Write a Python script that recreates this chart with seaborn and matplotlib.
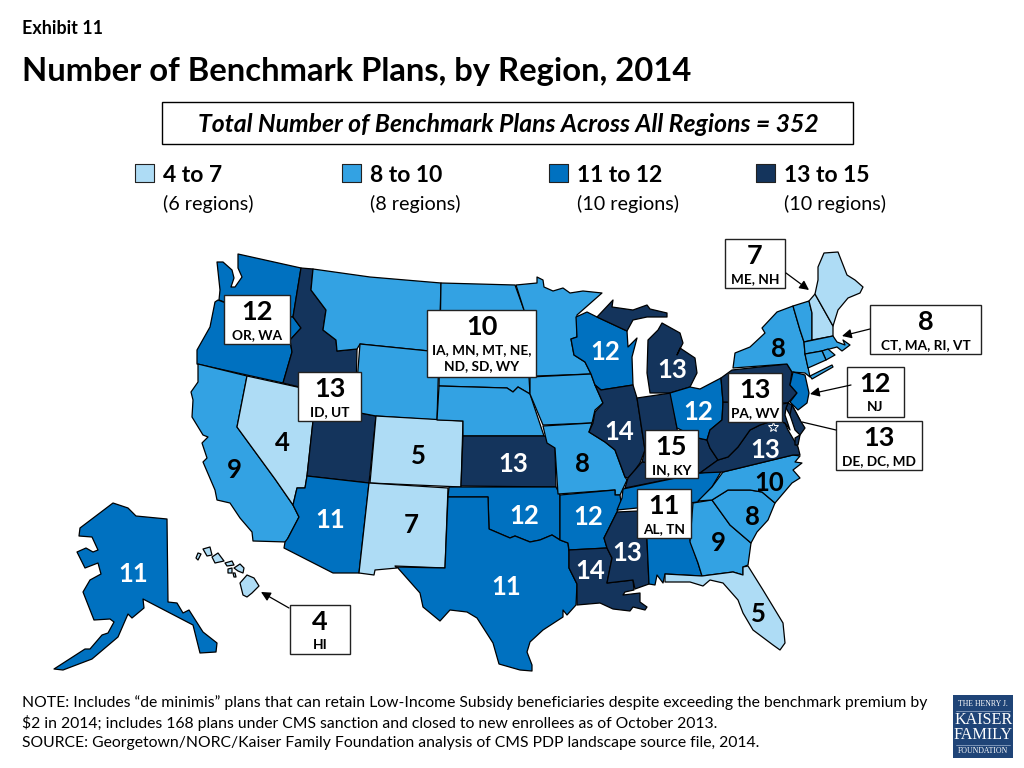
import matplotlib
matplotlib.use('Agg')
import matplotlib.pyplot as plt
from matplotlib.collections import PolyCollection
from matplotlib.patches import Rectangle
import seaborn as sns

states = ['WA', 'OR', 'CA', 'NV', 'ID', 'UT', 'AZ', 'MT', 'WY', 'CO', 'NM', 'ND', 'SD', 'NE', 'KS', 'OK', 'TX',
          'MN', 'IA', 'MO', 'AR', 'LA', 'WI', 'IL', 'MI', 'IN', 'KY', 'OH', 'TN', 'MS', 'AL', 'GA', 'FL', 'SC',
          'NC', 'VA', 'WV', 'PA', 'NY', 'VT', 'NH', 'ME', 'MA', 'RI', 'CT', 'NJ', 'DE', 'MD', 'AK', 'HI']
plans = [12, 12, 9, 4, 13, 13, 11, 10, 10, 5, 7, 10, 10, 10, 13, 12, 11,
         10, 10, 8, 12, 14, 12, 14, 13, 15, 15, 12, 11, 13, 11, 9, 5, 8,
         10, 13, 13, 13, 8, 8, 7, 7, 8, 8, 8, 12, 13, 13, 11, 4]

legend_titles = ['4 to 7', '8 to 10', '11 to 12', '13 to 15']
legend_counts = ['(6 regions)', '(8 regions)', '(10 regions)', '(10 regions)']
bin_tops = [7, 10, 12, 15]
colors = ['#AEDCF5', '#33A2E3', '#0071C0', '#14345C']

# numbers printed directly on the map
map_numbers = [9, 4, 11, 7, 5, 13, 12, 11, 11, 12, 13, 14, 8, 12, 14, 13, 9, 8, 10, 5, 12, 8, 13]
map_number_states = ['CA', 'NV', 'AZ', 'NM', 'CO', 'KS', 'OK', 'TX', 'AK', 'WI', 'MI', 'IL', 'MO', 'AR', 'LA',
                     'MS', 'GA', 'SC', 'NC', 'FL', 'OH', 'NY', 'VA']
label_pos = {'CA': (234, 469), 'NV': (282, 442), 'AZ': (330, 519), 'NM': (411, 524), 'CO': (418, 455),
             'KS': (513, 463), 'OK': (524, 515), 'TX': (506, 586), 'AK': (133, 573), 'WI': (605, 351),
             'MI': (672, 369), 'IL': (619, 431), 'MO': (582, 463), 'AR': (588, 516), 'LA': (590, 570),
             'MS': (627, 552), 'GA': (718, 542), 'SC': (752, 516), 'NC': (769, 482), 'FL': (758, 613),
             'OH': (698, 411), 'NY': (778, 348), 'VA': (765, 449)}

# callout boxes: number, states, x0, y0, x1, y1
box_numbers = [12, 13, 10, 7, 8, 12, 13, 13, 15, 11, 4]
box_states = ['OR, WA', 'ID, UT', 'IA, MN, MT, NE,\nND, SD, WY', 'ME, NH', 'CT, MA, RI, VT', 'NJ', 'DE, DC, MD',
              'PA, WV', 'IN, KY', 'AL, TN', 'HI']
box_rects = [(224, 295, 290, 344), (298, 372, 361, 421), (427, 310, 536, 377), (725, 239, 785, 288),
             (870, 305, 981, 354), (847, 367, 904, 417), (836, 421, 922, 470), (728, 373, 782, 422),
             (645, 430, 698, 478), (637, 489, 691, 538), (290, 605, 350, 654)]
arrows = [((786, 273), (809, 290)), ((870, 329), (842, 336)), ((851, 385), (810, 394)),
          ((289, 608), (261, 592))]

# state outlines traced in image pixels
shapes = {
    'WA': [[(238, 254), (301, 268), (293, 317), (260, 316), (219, 300), (220, 290), (217, 262), (223, 262), (232, 270),
            (234, 278), (231, 287), (235, 287), (242, 277), (238, 268)]],
    'OR': [[(218, 300), (260, 316), (293, 317), (301, 328), (290, 340), (292, 352), (283, 383), (197, 364), (197, 350),
            (210, 327), (215, 302)]],
    'ID': [[(301, 268), (313, 269), (311, 290), (326, 310), (323, 330), (336, 340), (337, 351), (357, 349), (356, 395),
            (320, 392), (283, 383), (292, 352), (290, 340), (301, 328), (293, 317)]],
    'UT': [[(320, 392), (356, 395), (355, 412), (376, 416), (369, 483), (307, 476), (313, 421)]],
    'NV': [[(247, 376), (320, 392), (313, 421), (307, 476), (305, 488), (297, 488), (293, 505), (275, 479), (237, 427)]],
    'CA': [[(198, 364), (247, 376), (237, 427), (275, 479), (293, 505), (299, 517), (288, 538), (287, 542), (253, 541),
            (252, 532), (240, 518), (230, 503), (217, 500), (215, 490), (203, 462), (207, 458), (202, 443), (208, 437),
            (203, 435), (192, 417), (193, 400), (191, 392), (198, 382)]],
    'AZ': [[(307, 476), (369, 483), (359, 573), (333, 573), (284, 548), (285, 542), (288, 538), (299, 517), (293, 505),
            (297, 488), (305, 488)]],
    'NM': [[(369, 483), (448, 488), (445, 568), (395, 566), (397, 568), (375, 570), (374, 575), (359, 573)]],
    'CO': [[(376, 416), (463, 421), (461, 487), (370, 483)]],
    'WY': [[(360, 344), (439, 352), (437, 420), (376, 416), (355, 412), (356, 395)]],
    'MT': [[(313, 269), (370, 277), (441, 283), (439, 352), (360, 344), (357, 349), (337, 351), (336, 340), (323, 330),
            (326, 310), (311, 290)]],
    'ND': [[(441, 283), (515, 285), (524, 310), (527, 340), (440, 340)]],
    'SD': [[(440, 340), (527, 340), (529, 377), (530, 394), (518, 387), (513, 392), (507, 388), (439, 386)]],
    'NE': [[(439, 386), (507, 388), (513, 392), (518, 387), (530, 394), (544, 436), (463, 436), (463, 421), (437, 420)]],
    'KS': [[(463, 436), (545, 436), (550, 442), (555, 448), (556, 487), (461, 486)]],
    'OK': [[(449, 487), (556, 487), (560, 495), (560, 540), (552, 535), (540, 540), (530, 542), (515, 536), (510, 538),
            (489, 529), (488, 497), (448, 497)]],
    'TX': [[(448, 497), (488, 497), (489, 529), (510, 538), (515, 536), (530, 542), (540, 540), (552, 535), (560, 540),
            (568, 543), (569, 552), (569, 568), (577, 584), (576, 605), (567, 615), (563, 610), (563, 617), (543, 630),
            (530, 642), (527, 652), (532, 665), (532, 671), (520, 670), (499, 664), (493, 643), (477, 618), (467, 612),
            (450, 610), (440, 621), (423, 607), (420, 593), (397, 567), (445, 568)]],
    'MN': [[(516, 285), (537, 283), (537, 277), (543, 280), (544, 287), (553, 291), (563, 288), (570, 293), (583, 291),
            (602, 293), (577, 315), (577, 337), (571, 339), (574, 355), (585, 362), (591, 374), (537, 376), (529, 377),
            (524, 310)]],
    'IA': [[(530, 377), (591, 374), (595, 385), (603, 403), (595, 410), (592, 423), (543, 425), (530, 394)]],
    'WI': [[(576, 317), (587, 312), (597, 317), (627, 331), (628, 347), (637, 338), (632, 357), (633, 385), (601, 390),
            (595, 385), (591, 374), (585, 362), (574, 355), (571, 339), (577, 337)]],
    'MI': [[(597, 317), (613, 300), (612, 307), (633, 310), (647, 305), (650, 309), (667, 313), (667, 317), (647, 317),
            (633, 320), (627, 331)],
           [(658, 330), (662, 323), (680, 333), (683, 343), (677, 355), (680, 348), (695, 358), (697, 373), (690, 387),
            (670, 393), (650, 393), (647, 373), (648, 340)]],
    'IL': [[(601, 390), (633, 385), (637, 398), (645, 450), (640, 463), (635, 470), (628, 478), (625, 477), (615, 450),
            (605, 442), (589, 432), (593, 423), (595, 412), (603, 403), (595, 385)]],
    'IN': [[(637, 398), (671, 393), (677, 428), (679, 445), (660, 465), (642, 462), (645, 450)]],
    'KY': [[(628, 478), (635, 470), (642, 462), (660, 465), (679, 445), (698, 438), (707, 440), (710, 448), (718, 460),
            (700, 473), (640, 485), (625, 488)]],
    'OH': [[(670, 393), (690, 387), (700, 389), (721, 378), (723, 402), (722, 420), (710, 430), (707, 440), (698, 438),
            (677, 428)]],
    'MO': [[(543, 426), (592, 423), (589, 432), (605, 442), (615, 450), (625, 477), (627, 480), (620, 495), (615, 495),
            (615, 490), (558, 494), (555, 448), (547, 443)]],
    'AR': [[(560, 495), (615, 490), (615, 495), (620, 495), (621, 502), (617, 512), (604, 538), (607, 548), (569, 550),
            (568, 543), (560, 540)]],
    'LA': [[(569, 550), (607, 548), (612, 558), (607, 583), (633, 580), (634, 590), (625, 592), (623, 595), (640, 593),
            (640, 602), (647, 607), (645, 610), (633, 607), (630, 611), (613, 609), (600, 603), (577, 605), (577, 584),
            (569, 568)]],
    'MS': [[(617, 512), (638, 511), (647, 507), (647, 540), (649, 584), (635, 589), (633, 580), (607, 583), (612, 558),
            (607, 548), (604, 538)]],
    'AL': [[(647, 507), (692, 503), (690, 540), (698, 563), (702, 576), (665, 574), (663, 583), (657, 575), (655, 585),
            (649, 584), (647, 540)]],
    'TN': [[(623, 489), (700, 473), (722, 470), (712, 487), (698, 502), (617, 510), (622, 498)]],
    'GA': [[(693, 503), (712, 500), (730, 525), (751, 543), (748, 565), (743, 567), (743, 575), (733, 572), (702, 576),
            (698, 563), (690, 542)]],
    'FL': [[(665, 574), (702, 576), (733, 572), (743, 575), (743, 567), (748, 566), (763, 590), (783, 623), (785, 643),
            (780, 650), (773, 645), (753, 630), (743, 613), (738, 600), (723, 583), (710, 580), (703, 586), (690, 582),
            (665, 582)]],
    'SC': [[(712, 500), (728, 490), (750, 490), (762, 492), (775, 503), (768, 520), (757, 532), (751, 543), (730, 525)]],
    'NC': [[(723, 472), (793, 455), (800, 456), (795, 462), (802, 463), (793, 470), (800, 478), (792, 483), (775, 503),
            (762, 492), (750, 490), (728, 490), (712, 500), (698, 501), (712, 487)]],
    'VA': [[(700, 473), (718, 460), (728, 457), (738, 447), (750, 430), (760, 425), (775, 420), (785, 423), (788, 430),
            (798, 447), (800, 455), (793, 455), (723, 472)],
           [(795, 438), (800, 435), (798, 445), (795, 445)]],
    'WV': [[(723, 402), (782, 404), (775, 420), (760, 425), (750, 430), (738, 447), (728, 457), (718, 460), (710, 448),
            (707, 440), (710, 430), (722, 420)]],
    'PA': [[(721, 378), (732, 370), (787, 364), (792, 372), (790, 385), (797, 393), (788, 403), (723, 402)]],
    'NY': [[(733, 368), (735, 353), (750, 347), (765, 333), (762, 328), (777, 312), (793, 306), (800, 330), (804, 342),
            (805, 354), (808, 367), (810, 377), (805, 373), (792, 372), (787, 364)],
           [(810, 376), (832, 365), (833, 367), (812, 379)]],
    'VT': [[(793, 306), (809, 301), (812, 313), (812, 340), (804, 342), (800, 330)]],
    'NH': [[(809, 301), (815, 294), (833, 326), (833, 336), (812, 340), (812, 313)]],
    'ME': [[(815, 294), (818, 280), (818, 267), (824, 253), (838, 252), (847, 275), (855, 280), (863, 287), (860, 293),
            (848, 298), (838, 310), (833, 326)]],
    'MA': [[(804, 342), (833, 336), (837, 342), (845, 345), (843, 340), (850, 345), (842, 351), (837, 347), (822, 351),
            (805, 354)]],
    'RI': [[(822, 351), (828, 349), (835, 355), (826, 360)]],
    'CT': [[(805, 354), (822, 351), (826, 360), (808, 368)]],
    'NJ': [[(793, 372), (805, 375), (809, 393), (807, 403), (798, 410), (790, 402), (797, 393), (790, 385)]],
    'MD': [[(782, 404), (788, 403), (786, 408), (785, 415), (790, 430), (785, 423), (775, 420)],
           [(792, 405), (800, 420), (805, 428), (800, 435), (795, 430), (790, 415)]],
    'DE': [[(788, 403), (792, 405), (800, 420), (795, 422), (790, 415), (786, 408)]],
    'AK': [[(113, 503), (128, 508), (136, 516), (167, 519), (168, 602), (177, 603), (183, 613), (189, 610), (203, 632),
            (217, 643), (216, 652), (200, 653), (193, 625), (143, 599), (144, 608), (132, 618), (128, 614), (118, 637),
            (92, 659), (63, 670), (54, 669), (85, 649), (90, 649), (102, 635), (108, 633), (114, 622), (110, 619),
            (94, 620), (83, 592), (90, 580), (101, 574), (98, 563), (85, 568), (77, 552), (86, 548), (93, 552),
            (98, 550), (92, 537), (79, 536), (80, 528)]],
    'HI': [[(240, 583), (247, 575), (254, 578), (259, 586), (252, 593), (247, 597), (243, 595)],
           [(234, 568), (240, 564), (244, 568), (243, 573), (238, 571)],
           [(225, 563), (232, 561), (234, 565), (227, 566)],
           [(212, 557), (218, 553), (224, 561), (215, 563)],
           [(203, 549), (210, 547), (212, 555), (207, 556)],
           [(196, 558), (198, 553), (201, 554), (198, 560)],
           [(228, 569), (232, 568), (232, 573), (228, 573)],
           [(233, 573), (235, 573), (236, 577), (234, 577)]],
}

note_lines = ['NOTE: Includes \u201cde minimis\u201d plans that can retain Low-Income Subsidy beneficiaries despite exceeding the benchmark premium by',
              '$2 in 2014; includes 168 plans under CMS sanction and closed to new enrollees as of October 2013.',
              'SOURCE: Georgetown/NORC/Kaiser Family Foundation analysis of CMS PDP landscape source file, 2014.']

sns.set_theme(style='white')
plt.rcParams['font.family'] = ['Lato', 'DejaVu Sans']

palette = sns.color_palette(colors)


def bin_color(value):
    for top, col in zip(bin_tops, palette):
        if value <= top:
            return col
    return palette[-1]


fig = plt.figure(figsize=(10.24, 7.68), dpi=100)
ax = fig.add_axes([0, 0, 1, 1])
ax.set_xlim(0, 1024)
ax.set_ylim(768, 0)
ax.axis('off')

# heading
ax.text(22, 28, 'Exhibit 11', fontsize=12.9, fontweight='bold', color='black', va='center')
ax.text(22, 71, 'Number of Benchmark Plans, by Region, 2014', fontsize=23.6, fontweight='bold', color='black', va='center')
ax.add_patch(Rectangle((162, 102), 691, 42, facecolor='white', edgecolor='black', linewidth=1))
ax.text(508, 125, 'Total Number of Benchmark Plans Across All Regions = 352', fontsize=17.8, fontweight='bold',
        fontstyle='italic', color='black', ha='center', va='center')

# legend
legend_x = [144.5, 351.5, 558.5, 765.5]
sns.scatterplot(x=legend_x, y=[173] * 4, hue=legend_titles, palette=palette, marker='s', s=170,
                edgecolor='#222222', linewidth=0.8, legend=False, ax=ax, zorder=3)
for lx, title, count in zip(legend_x, legend_titles, legend_counts):
    ax.text(lx + 18.5, 176, title, fontsize=16.5, fontweight='bold', color='black', va='center')
    ax.text(lx + 18.5, 204, count, fontsize=14.2, color='black', va='center')

# map
polys, poly_colors = [], []
for state, value in zip(states, plans):
    for ring in shapes[state]:
        polys.append(ring)
        poly_colors.append(bin_color(value))
ax.add_collection(PolyCollection(polys, facecolors=poly_colors, edgecolors='black', linewidths=0.9, zorder=2))

# DC marker
ax.plot([773], [427], marker='*', markersize=8, markerfacecolor='none', markeredgecolor='white',
        markeredgewidth=0.7, linestyle='none', zorder=3)

# numbers on the map
for state, number in zip(map_number_states, map_numbers):
    dark = bin_color(number) in (palette[2], palette[3])
    x, y = label_pos[state]
    ax.text(x, y + 1, str(number), fontsize=18.5, fontweight='bold', color='white' if dark else 'black',
            ha='center', va='center', zorder=4)

# callouts
for number, names, (x0, y0, x1, y1) in zip(box_numbers, box_states, box_rects):
    ax.add_patch(Rectangle((x0, y0), x1 - x0, y1 - y0, facecolor='white', edgecolor='#222222', linewidth=1, zorder=5))
    xc = (x0 + x1) / 2
    ax.text(xc, y0 + 17, str(number), fontsize=19.5, fontweight='bold', color='black', ha='center', va='center', zorder=6)
    if '\n' in names:
        ax.text(xc, y0 + 48, names, fontsize=9.8, fontweight='bold', color='black', ha='center', va='center',
                linespacing=1.35, zorder=6)
    else:
        ax.text(xc, y0 + 40, names, fontsize=9.8, fontweight='bold', color='black', ha='center', va='center', zorder=6)

for start, end in arrows:
    ax.annotate('', xy=end, xytext=start, zorder=7,
                arrowprops=dict(arrowstyle='-|>', color='black', linewidth=0.9, mutation_scale=14, shrinkA=0, shrinkB=0))
ax.plot([836, 802], [430, 422], color='black', linewidth=0.9, zorder=7)

# footer
for y, line in zip([703, 723, 743], note_lines):
    ax.text(22, y, line, fontsize=11.35, color='black', va='center')

# logo
ax.add_patch(Rectangle((953, 695), 60, 63, facecolor='#1F4477', edgecolor='none'))
serif = ['Liberation Serif', 'DejaVu Serif']
ax.text(983, 704, 'THE HENRY J.', fontsize=5.6, color='white', ha='center', va='center', family=serif)
ax.text(984, 720, 'KAISER', fontsize=11.6, color='white', ha='center', va='center', family=serif)
ax.text(983, 735, 'FAMILY', fontsize=11.6, color='white', ha='center', va='center', family=serif)
ax.text(983, 751, 'FOUNDATION', fontsize=5.6, color='white', ha='center', va='center', family=serif)
ax.plot([956, 1010], [711, 711], color='#9FB4CF', linewidth=0.5)
ax.plot([956, 1010], [745, 745], color='#9FB4CF', linewidth=0.5)

fig.savefig('out.png', dpi=100, facecolor='white')
